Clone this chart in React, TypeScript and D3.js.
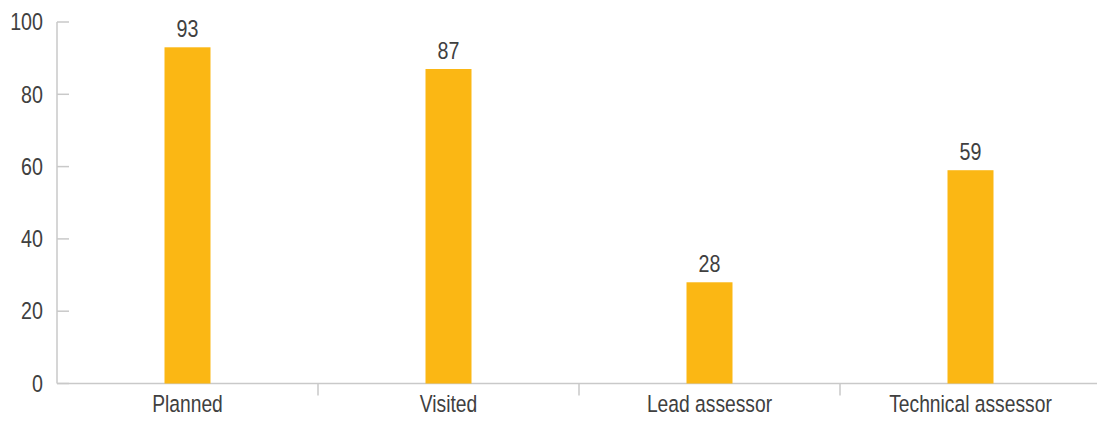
import React from "react";
import * as d3 from "d3";

const categories = ["Planned", "Visited", "Lead assessor", "Technical assessor"];
const values = [93, 87, 28, 59];
const yTicks = [0, 20, 40, 60, 80, 100];

const W = 1097;
const H = 421;
const left = 57;
const top = 22;
const bottom = 383.5;
const band = 261;

export default function App() {
  const x = d3
    .scaleBand<string>()
    .domain(categories)
    .range([left, left + band * categories.length])
    .paddingInner(0)
    .paddingOuter(0);
  const y = d3.scaleLinear().domain([0, 100]).range([bottom, top]);
  const barW = 46;
  const font = "'Liberation Sans', Arial, sans-serif";
  const textColor = "#404040";
  const axisColor = "#c9c9c9";
  const sx = 0.82;

  return (
    <svg
      width={W}
      height={H}
      style={{ position: "absolute", left: 0, top: 0, display: "block", background: "#fff" }}
    >
      {/* y axis */}
      <line x1={left} x2={left} y1={top} y2={bottom} stroke={axisColor} strokeWidth={1.5} />
      {yTicks.map((t) => (
        <g key={t}>
          <line x1={left} x2={left + 12} y1={y(t)} y2={y(t)} stroke={axisColor} strokeWidth={1.5} />
          <text
            transform={`translate(${left - 14},${y(t)}) scale(${sx},1)`}
            textAnchor="end"
            dominantBaseline="central"
            fontFamily={font}
            fontSize={24}
            fill={textColor}
          >
            {t}
          </text>
        </g>
      ))}
      {/* x axis */}
      <line x1={left} x2={W} y1={bottom} y2={bottom} stroke={axisColor} strokeWidth={1.5} />
      {categories.slice(1).map((c) => (
        <line
          key={c}
          x1={x(c)!}
          x2={x(c)!}
          y1={bottom}
          y2={bottom + 12}
          stroke={axisColor}
          strokeWidth={1.5}
        />
      ))}
      {categories.map((c, i) => {
        const cx = x(c)! + x.bandwidth() / 2;
        return (
          <g key={c}>
            <rect
              x={cx - barW / 2}
              y={y(values[i])}
              width={barW}
              height={bottom - y(values[i])}
              fill="#fbb714"
            />
            <text
              transform={`translate(${cx},${y(values[i]) - 10}) scale(${sx},1)`}
              textAnchor="middle"
              fontFamily={font}
              fontSize={24}
              fill={textColor}
            >
              {values[i]}
            </text>
            <text
              transform={`translate(${cx},411.5) scale(${sx},1)`}
              textAnchor="middle"
              fontFamily={font}
              fontSize={23.5}
              fill={textColor}
            >
              {c}
            </text>
          </g>
        );
      })}
    </svg>
  );
}
